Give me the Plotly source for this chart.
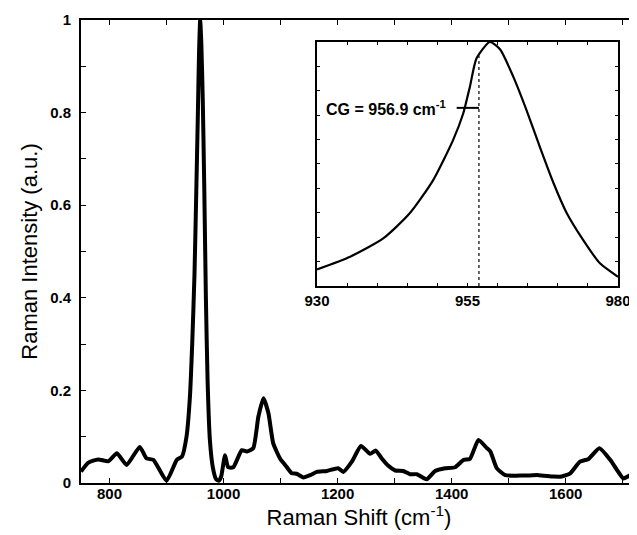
import plotly.graph_objects as go

# Main spectrum (Raman shift cm-1, normalized intensity)
shift = [750, 763, 780, 798, 813, 830, 853, 865, 877, 900, 918, 927, 935, 941, 945, 949, 952, 955, 957, 959,
         961, 963.5, 966, 969, 972, 976, 981, 987, 992, 996, 1002.6, 1008, 1017, 1032, 1041, 1052, 1061, 1070,
         1078.6, 1087, 1099, 1108, 1119.6, 1128, 1140, 1152, 1163.5, 1181, 1201, 1210, 1225, 1241, 1257, 1267,
         1277.5, 1289, 1301, 1315, 1327, 1339, 1356, 1371, 1388.6, 1406, 1421, 1432, 1447, 1462, 1468, 1479,
         1494, 1526, 1552, 1578.6, 1593, 1608, 1625, 1640, 1659, 1678, 1690, 1701, 1713, 1725]
intensity = [0.025, 0.044, 0.051, 0.047, 0.064, 0.039, 0.078, 0.053, 0.050, 0.005, 0.050, 0.057, 0.100, 0.186,
             0.30, 0.45, 0.62, 0.80, 0.93, 1.0, 0.95, 0.83, 0.65, 0.40, 0.22, 0.093, 0.035, 0.008, 0.005, 0.015,
             0.060, 0.034, 0.034, 0.071, 0.068, 0.075, 0.143, 0.183, 0.151, 0.086, 0.053, 0.039, 0.021, 0.020,
             0.012, 0.017, 0.024, 0.026, 0.032, 0.024, 0.046, 0.080, 0.063, 0.070, 0.053, 0.037, 0.027, 0.026,
             0.019, 0.019, 0.008, 0.026, 0.032, 0.034, 0.050, 0.052, 0.093, 0.075, 0.068, 0.032, 0.017, 0.016,
             0.017, 0.014, 0.014, 0.021, 0.046, 0.052, 0.075, 0.050, 0.028, 0.010, 0.017, 0.032]

# Inset: zoom on main peak
inset_shift = [930.0, 935.5, 941.0, 945.4, 949.3, 952.6, 954.3, 955.4, 956.5, 958.7, 960.4, 962.6, 964.8,
               967.0, 969.3, 971.5, 974.2, 977.0, 980.0]
inset_int = [0.068, 0.120, 0.195, 0.298, 0.434, 0.598, 0.708, 0.817, 0.933, 1.0, 0.970, 0.858, 0.721,
             0.571, 0.421, 0.298, 0.189, 0.093, 0.038]
cg_value = 956.9
cg_label = "CG = 956.9 cm<sup>-1</sup>"
inset_xlabels = [930, 955, 980]

FONT = "Liberation Sans, Arial"
tickf = dict(family=FONT, size=15, color="black", weight="bold")

fig = go.Figure()
fig.add_trace(go.Scatter(x=shift, y=intensity, mode="lines",
                         line=dict(color="black", width=4, shape="spline", smoothing=0.5),
                         showlegend=False, hoverinfo="skip"))
fig.add_trace(go.Scatter(x=inset_shift, y=inset_int, mode="lines", xaxis="x2", yaxis="y2",
                         line=dict(color="black", width=2.2, shape="spline", smoothing=0.6),
                         showlegend=False, hoverinfo="skip"))
fig.add_trace(go.Scatter(x=[cg_value, cg_value], y=[0, 0.945], mode="lines", xaxis="x2", yaxis="y2",
                         line=dict(color="black", width=1.2, dash="dot"), showlegend=False, hoverinfo="skip"))
fig.add_trace(go.Scatter(x=[953.2, cg_value], y=[0.73, 0.73], mode="lines", xaxis="x2", yaxis="y2",
                         line=dict(color="black", width=2), showlegend=False, hoverinfo="skip"))

# page body adds an 8px offset: size the figure so the plot lands where the reference has it
fig.update_layout(
    width=629, height=527,
    margin=dict(l=73, r=0, t=12, b=52, autoexpand=False),
    paper_bgcolor="white", plot_bgcolor="white",
    font=dict(family=FONT, color="black"),
    xaxis=dict(range=[750, 1725], tick0=800, dtick=200, ticks="inside", ticklen=5,
               tickwidth=1, tickcolor="black", showline=True, linecolor="black", linewidth=2, mirror="ticks",
               minor=dict(dtick=100, tick0=800, ticks="inside", ticklen=5, tickcolor="black"),
               showgrid=False, zeroline=False, tickfont=tickf, ticklabelstandoff=-4, automargin=False,
               title=dict(text="Raman Shift (cm<sup>-1</sup>)", font=dict(family=FONT, size=22), standoff=0)),
    yaxis=dict(range=[0, 1], tick0=0, dtick=0.2, ticks="inside", ticklen=5,
               tickwidth=1, tickcolor="black", showline=True, linecolor="black", linewidth=2, mirror=False,
               minor=dict(dtick=0.1, tick0=0, ticks="inside", ticklen=5, tickcolor="black"),
               showgrid=False, zeroline=False, tickfont=tickf, ticklabelstandoff=5, automargin=False,
               title=dict(text="Raman Intensity (a.u.)", font=dict(family=FONT, size=22), standoff=6)),
    xaxis2=dict(domain=[0.4245, 0.9658], anchor="y2", range=[930, 980], tickvals=inset_xlabels,
                ticks="inside", ticklen=3, tickcolor="black", showline=True,
                minor=dict(dtick=5, tick0=930, ticks="inside", ticklen=3, tickcolor="black"),
                linecolor="black", linewidth=2, mirror="ticks", showgrid=False, zeroline=False,
                tickfont=tickf),
    yaxis2=dict(domain=[0.4255, 0.9525], anchor="x2", range=[0, 1.0], tick0=0, dtick=0.1,
                showticklabels=False, ticks="inside", ticklen=3, tickcolor="black", showline=True,
                linecolor="black", linewidth=2, mirror="ticks", showgrid=False, zeroline=False),
    annotations=[dict(x=951.8, y=0.73, xref="x2", yref="y2", text=cg_label, showarrow=False,
                      xanchor="right", yanchor="middle",
                      font=dict(family=FONT, size=16, color="black", weight="bold"))],
)
fig.write_html("out.html")
